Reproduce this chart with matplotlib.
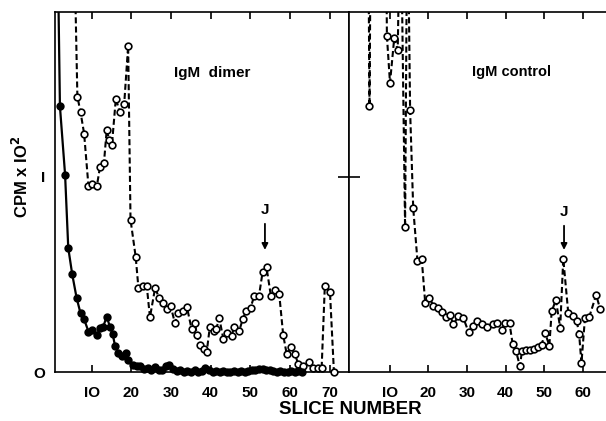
import matplotlib
matplotlib.use('Agg')
import matplotlib.pyplot as plt
import numpy as np

plt.rcParams['font.family'] = ['Liberation Sans', 'DejaVu Sans']
plt.rcParams['font.weight'] = 'bold'
plt.rcParams['mathtext.default'] = 'bf'

# IgM dimer, filled circles (solid line)
dimer_filled_x = [1.0, 2.0, 3.3, 4.1, 5.1, 6.2, 7.2, 8.1, 9.2, 10.0, 11.3, 12.1, 12.9, 13.8,
                  14.6, 15.3, 15.9, 16.7, 17.6, 18.7, 19.2, 20.5, 21.4, 22.3, 23.2, 24.1,
                  25.0, 26.0, 26.9, 27.8, 28.8, 29.6, 30.5, 31.4, 32.3, 33.2, 34.1, 35.0,
                  36.0, 36.9, 37.8, 38.7, 39.6, 40.5, 41.4, 42.3, 43.2, 44.1, 45.0, 45.9,
                  46.8, 47.7, 48.6, 49.5, 50.4, 51.3, 52.2, 53.1, 54.0, 54.9, 55.8, 56.7,
                  57.6, 58.5, 59.4, 60.3, 61.2, 62.1, 63.0]
dimer_filled_y = [2.8, 1.36, 1.01, 0.635, 0.50, 0.38, 0.30, 0.27, 0.207, 0.215, 0.19, 0.223,
                  0.232, 0.283, 0.232, 0.195, 0.133, 0.099, 0.082, 0.096, 0.062, 0.036, 0.031,
                  0.03, 0.015, 0.02, 0.01, 0.025, 0.008, 0.012, 0.03, 0.035, 0.015, 0.005,
                  0.01, 0.0, 0.005, 0.0, 0.01, 0.0, 0.005, 0.02, 0.012, 0.0, 0.005, 0.0,
                  0.005, 0.0, 0.0, 0.005, 0.0, 0.005, 0.0, 0.005, 0.01, 0.01, 0.015, 0.015,
                  0.012, 0.01, 0.005, 0.0, 0.005, 0.0, 0.0, 0.005, 0.0, 0.005, 0.0]

# IgM dimer, open circles (dashed line)
dimer_open_x = [5.3, 6.4, 7.2, 8.1, 9.2, 10.2, 11.3, 12.1, 13.1, 13.8, 14.4, 15.1, 16.1, 17.1,
                18.2, 19.2, 19.8, 21.1, 21.8, 22.9, 23.9, 24.7, 26.0, 27.0, 28.1, 28.9,
                29.9, 31.0, 31.8, 33.0, 34.0, 35.2, 36.1, 36.5, 37.3, 38.3, 39.0, 39.8,
                40.8, 41.4, 42.2, 43.2, 44.2, 45.3, 45.9, 47.2, 48.1, 48.9, 50.1, 51.0,
                52.2, 53.1, 54.1, 55.2, 56.2, 57.3, 58.3, 59.2, 60.2, 61.3, 62.1, 63.2,
                64.8, 65.9, 67.1, 68.0, 68.8, 70.1, 71.1]
dimer_open_y = [2.5, 1.41, 1.33, 1.22, 0.95, 0.96, 0.95, 1.05, 1.07, 1.24, 1.19, 1.16, 1.40,
                1.33, 1.37, 1.67, 0.78, 0.59, 0.43, 0.44, 0.44, 0.28, 0.43, 0.38, 0.355,
                0.32, 0.34, 0.25, 0.30, 0.31, 0.335, 0.22, 0.25, 0.19, 0.14, 0.12, 0.10,
                0.23, 0.21, 0.22, 0.275, 0.17, 0.20, 0.185, 0.23, 0.21, 0.27, 0.31, 0.33,
                0.39, 0.39, 0.51, 0.535, 0.39, 0.42, 0.40, 0.19, 0.09, 0.13, 0.09, 0.04,
                0.03, 0.05, 0.02, 0.02, 0.02, 0.44, 0.41, 0.0]

# IgM control, open circles (dashed line)
control_x = [4.4, 4.8, 5.2, 9.0, 9.3, 10.1, 11.2, 12.1, 12.8, 14.0, 14.6, 15.3, 16.1, 17.2,
             18.3, 19.2, 20.3, 21.3, 22.6, 23.5, 24.6, 25.6, 26.5, 27.8, 29.1, 30.4, 31.6,
             32.5, 33.8, 35.1, 36.7, 37.8, 39.0, 39.8, 41.0, 41.8, 42.7, 43.7, 44.2, 45.3,
             46.3, 47.3, 48.4, 49.3, 50.2, 51.3, 51.9, 53.0, 54.1, 54.9, 56.2, 57.3, 58.4,
             59.0, 59.6, 60.5, 61.6, 63.4, 64.4]
control_y = [2.5, 1.36, 2.5, 2.5, 1.72, 1.48, 1.71, 1.65, 2.5, 0.74, 2.5, 1.34, 0.84, 0.57,
             0.58, 0.355, 0.38, 0.34, 0.33, 0.305, 0.28, 0.29, 0.245, 0.285, 0.275, 0.205,
             0.235, 0.26, 0.245, 0.23, 0.245, 0.25, 0.215, 0.25, 0.25, 0.145, 0.105, 0.03,
             0.105, 0.115, 0.115, 0.12, 0.13, 0.14, 0.20, 0.135, 0.31, 0.37, 0.225, 0.58,
             0.30, 0.285, 0.26, 0.195, 0.045, 0.275, 0.28, 0.395, 0.325]

YMAX = 1.843


def draw(ax, xs, ys, filled):
    xs = np.array(xs)
    ys = np.array(ys)
    if filled:
        ax.plot(xs, ys, color='black', lw=1.6, linestyle='-')
    else:
        ln, = ax.plot(xs, ys, color='black', lw=1.5)
        ln.set_dashes((2.9, 1.5))
    keep = ys <= YMAX
    face = 'black' if filled else 'white'
    ax.plot(xs[keep], ys[keep], linestyle='none', marker='o', ms=4.8,
            mfc=face, mec='black', mew=1.2, clip_on=False, zorder=3)


fig = plt.figure(figsize=(6.06, 4.21), dpi=100)
ax1 = fig.add_axes([54.5 / 606, 49 / 421, 294.5 / 606, 360 / 421])
ax2 = fig.add_axes([349 / 606, 49 / 421, 257 / 606, 360 / 421])

draw(ax1, dimer_open_x, dimer_open_y, False)
draw(ax1, dimer_filled_x, dimer_filled_y, True)
draw(ax2, control_x, control_y, False)

ax1.set_xlim(0.63, 74.9)
ax2.set_xlim(-0.5, 65.95)
for ax in (ax1, ax2):
    ax.set_ylim(0, YMAX)
    for s in ax.spines.values():
        s.set_linewidth(1.2)
ax2.spines['right'].set_visible(False)

ax1.set_xticks(range(10, 71, 10))
ax1.set_xticklabels(['IO', '20', '30', '40', '50', '60', '70'])
ax1.tick_params(axis='x', direction='in', top=True, length=5, width=1.2,
                pad=10, labelsize=11)
ax1.set_yticks([0, 1])
ax1.set_yticklabels(['O', 'I'])
ax1.tick_params(axis='y', length=0, pad=7, labelsize=11)

ax2.set_xticks(range(10, 61, 10))
ax2.set_xticklabels(['IO', '20', '30', '40', '50', '60'])
ax2.tick_params(axis='x', direction='in', top=True, length=5, width=1.2,
                pad=10, labelsize=11)
ax2.set_yticks([1])
ax2.set_yticklabels([])
ax2.tick_params(axis='y', direction='inout', length=16, width=1.2)

ax1.text(40.3, 1.532, 'IgM  dimer', ha='center', va='center', fontsize=11)
ax2.text(41.4, 1.536, 'IgM control', ha='center', va='center', fontsize=10.5)

arrow = dict(arrowstyle='-|>', color='black', lw=1.3, mutation_scale=9,
             shrinkA=3, shrinkB=0)
ax1.annotate('J', xy=(53.7, 0.625), xytext=(53.7, 0.83), ha='center', va='center',
             fontsize=11, arrowprops=arrow)
ax2.annotate('J', xy=(55.1, 0.625), xytext=(55.1, 0.82), ha='center', va='center',
             fontsize=11, arrowprops=arrow)

fig.text(21 / 606, 1 - 177 / 421, 'CPM x IO$^2$', rotation=90, ha='center',
         va='center', fontsize=12)
fig.text(350 / 606, 1 - 409 / 421, 'SLICE NUMBER', ha='center', va='center',
         fontsize=13.5)

plt.savefig('out.png', dpi=100)
